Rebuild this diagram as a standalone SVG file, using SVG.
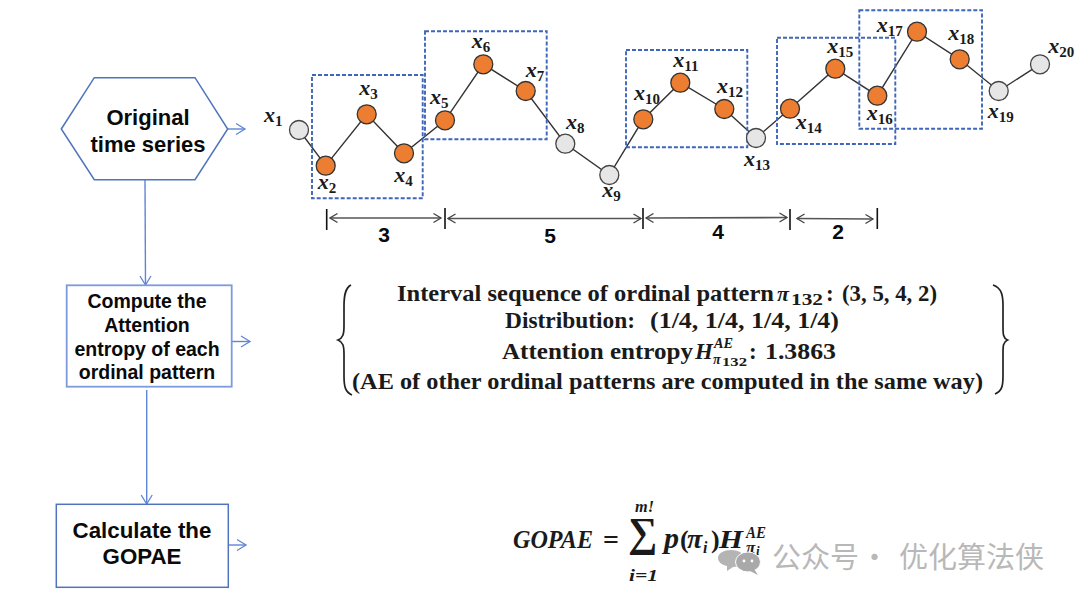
<svg xmlns="http://www.w3.org/2000/svg" width="1080" height="601" viewBox="0 0 1080 601">
<style>
.s{font-family:"Liberation Sans",Arial,sans-serif;font-weight:700;fill:#0a0a0a;text-anchor:middle}
.m{font-family:"Liberation Serif","Times New Roman",serif;font-weight:700;fill:#1a1a1a}
.v{font-size:22px;font-style:italic}
.b{font-size:15px}
.t{font-size:23px}
.flow{fill:#fff;stroke:#4f74bd;stroke-width:1.5}
.boxl{fill:#fff;stroke:#7d9bdc;stroke-width:1.8}
.fl{fill:none;stroke:#5f86d6;stroke-width:1.4}
.ser{fill:none;stroke:#333;stroke-width:1.4}
.dash{fill:none;stroke:#3f66b8;stroke-width:1.9;stroke-dasharray:4 2}
.o{fill:#ed7d31;stroke:#333;stroke-width:1.3}
.g{fill:#e6e6e6;stroke:#444;stroke-width:1.3}
.tick{stroke:#111;stroke-width:1.6}
.dim{stroke:#555;stroke-width:1.6;fill:none;marker-start:url(#os);marker-end:url(#oe)}
.brace{fill:none;stroke:#222;stroke-width:1.7}
</style>
<defs>
<marker id="fa" markerUnits="userSpaceOnUse" markerWidth="12" markerHeight="14" refX="10" refY="7" orient="auto"><path d="M1 1.5L10 7L1 12.5" fill="none" stroke="#5f86d6" stroke-width="1.3"/></marker>
<marker id="oe" markerUnits="userSpaceOnUse" markerWidth="10" markerHeight="12" refX="8.5" refY="6" orient="auto"><path d="M1 1.5L8.5 6L1 10.5" fill="none" stroke="#444" stroke-width="1.3"/></marker>
<marker id="os" markerUnits="userSpaceOnUse" markerWidth="10" markerHeight="12" refX="1.5" refY="6" orient="auto"><path d="M9 1.5L1.5 6L9 10.5" fill="none" stroke="#444" stroke-width="1.3"/></marker>
</defs>
<rect width="1080" height="601" fill="#fff"/>
<g id="connectors">
<polyline class="ser" points="299,130 325.7,165.7 366.7,114.3 404,153.3 445,120.3 483.3,64.3 525.7,91 565.3,143.7 609.3,175 643.3,119.3 680.3,82.7 724.3,109 756,138 790,108.7 835.3,68.7 877.3,95.7 917,31.7 959.7,59.3 998.7,91 1040,64.3"/>
<line class="fl" marker-end="url(#fa)" x1="228" y1="129" x2="245" y2="129"/>
<line class="fl" marker-end="url(#fa)" x1="145" y1="180" x2="145.5" y2="285"/>
<line class="fl" marker-end="url(#fa)" x1="232" y1="341.5" x2="250" y2="341.5"/>
<line class="fl" marker-end="url(#fa)" x1="146.7" y1="390" x2="146.7" y2="504"/>
<line class="fl" marker-end="url(#fa)" x1="228" y1="545" x2="246" y2="545"/>
<line class="dim" x1="330" y1="218" x2="441" y2="218"/>
<line class="dim" x1="448" y1="218.5" x2="641" y2="218.5"/>
<line class="dim" x1="646" y1="218" x2="787" y2="217.5"/>
<line class="dim" x1="797" y1="218.5" x2="873" y2="219"/>
<line class="tick" x1="326.7" y1="209" x2="326.7" y2="230"/>
<line class="tick" x1="445" y1="208" x2="445" y2="229"/>
<line class="tick" x1="643" y1="208" x2="643" y2="229"/>
<line class="tick" x1="790" y1="209" x2="790" y2="230"/>
<line class="tick" x1="877.3" y1="208" x2="877.3" y2="229"/>
</g>
<g id="windows">
<rect class="dash" x="312" y="75" width="110.7" height="123.3"/>
<rect class="dash" x="425" y="31.3" width="121.7" height="108"/>
<rect class="dash" x="626" y="50" width="121.3" height="97.3"/>
<rect class="dash" x="777" y="37.7" width="118.3" height="106.3"/>
<rect class="dash" x="859.3" y="10.3" width="122.7" height="118.4"/>
</g>
<g id="hexagon"><polygon class="flow" points="61.3,129 94.3,77.7 195,77.7 227.7,129 195,179.7 94.3,179.7"/>
<text class="s" font-size="22" x="148" y="125">Original</text><text class="s" font-size="22" x="148" y="151.7">time series</text></g>
<g id="compute"><rect class="boxl" x="66.7" y="285.3" width="165" height="101.4"/>
<text class="s" font-size="19.5" x="147" y="308">Compute the</text><text class="s" font-size="19.5" x="147" y="332.3">Attention</text><text class="s" font-size="19.5" x="147" y="356">entropy of each</text><text class="s" font-size="19.5" x="147" y="379.3">ordinal pattern</text></g>
<g id="calculate"><rect class="flow" x="56.3" y="504.3" width="172" height="83"/>
<text class="s" font-size="22.3" x="142" y="538">Calculate the</text><text class="s" font-size="22.3" x="142" y="564">GOPAE</text></g>
<g id="x1"><circle class="g" cx="299" cy="130" r="9.5"/><text class="m" x="264" y="122"><tspan class="v">x</tspan><tspan class="b" dy="4">1</tspan></text></g>
<g id="x2"><circle class="o" cx="325.7" cy="165.7" r="9.5"/><text class="m" x="317.7" y="189.3"><tspan class="v">x</tspan><tspan class="b" dy="4">2</tspan></text></g>
<g id="x3"><circle class="o" cx="366.7" cy="114.3" r="9.5"/><text class="m" x="359.3" y="95.3"><tspan class="v">x</tspan><tspan class="b" dy="4">3</tspan></text></g>
<g id="x4"><circle class="o" cx="404" cy="153.3" r="9.5"/><text class="m" x="394.3" y="181.7"><tspan class="v">x</tspan><tspan class="b" dy="4">4</tspan></text></g>
<g id="x5"><circle class="o" cx="445" cy="120.3" r="9.5"/><text class="m" x="430" y="104.3"><tspan class="v">x</tspan><tspan class="b" dy="4">5</tspan></text></g>
<g id="x6"><circle class="o" cx="483.3" cy="64.3" r="9.5"/><text class="m" x="471.7" y="48.3"><tspan class="v">x</tspan><tspan class="b" dy="4">6</tspan></text></g>
<g id="x7"><circle class="o" cx="525.7" cy="91" r="9.5"/><text class="m" x="525.7" y="77.3"><tspan class="v">x</tspan><tspan class="b" dy="4">7</tspan></text></g>
<g id="x8"><circle class="g" cx="565.3" cy="143.7" r="9.5"/><text class="m" x="566" y="128.7"><tspan class="v">x</tspan><tspan class="b" dy="4">8</tspan></text></g>
<g id="x9"><circle class="g" cx="609.3" cy="175" r="9.5"/><text class="m" x="602.3" y="197.3"><tspan class="v">x</tspan><tspan class="b" dy="4">9</tspan></text></g>
<g id="x10"><circle class="o" cx="643.3" cy="119.3" r="9.5"/><text class="m" x="634" y="100"><tspan class="v">x</tspan><tspan class="b" dy="4">10</tspan></text></g>
<g id="x11"><circle class="o" cx="680.3" cy="82.7" r="9.5"/><text class="m" x="673.3" y="66.7"><tspan class="v">x</tspan><tspan class="b" dy="4">11</tspan></text></g>
<g id="x12"><circle class="o" cx="724.3" cy="109" r="9.5"/><text class="m" x="717" y="93.3"><tspan class="v">x</tspan><tspan class="b" dy="4">12</tspan></text></g>
<g id="x13"><circle class="g" cx="756" cy="138" r="9.5"/><text class="m" x="744" y="165.7"><tspan class="v">x</tspan><tspan class="b" dy="4">13</tspan></text></g>
<g id="x14"><circle class="o" cx="790" cy="108.7" r="9.5"/><text class="m" x="795.7" y="129"><tspan class="v">x</tspan><tspan class="b" dy="4">14</tspan></text></g>
<g id="x15"><circle class="o" cx="835.3" cy="68.7" r="9.5"/><text class="m" x="827.3" y="53.3"><tspan class="v">x</tspan><tspan class="b" dy="4">15</tspan></text></g>
<g id="x16"><circle class="o" cx="877.3" cy="95.7" r="9.5"/><text class="m" x="866.7" y="120"><tspan class="v">x</tspan><tspan class="b" dy="4">16</tspan></text></g>
<g id="x17"><circle class="o" cx="917" cy="31.7" r="9.5"/><text class="m" x="876.7" y="32.3"><tspan class="v">x</tspan><tspan class="b" dy="4">17</tspan></text></g>
<g id="x18"><circle class="o" cx="959.7" cy="59.3" r="9.5"/><text class="m" x="948.3" y="40"><tspan class="v">x</tspan><tspan class="b" dy="4">18</tspan></text></g>
<g id="x19"><circle class="g" cx="998.7" cy="91" r="9.5"/><text class="m" x="987.7" y="118.3"><tspan class="v">x</tspan><tspan class="b" dy="4">19</tspan></text></g>
<g id="x20"><circle class="g" cx="1040" cy="64.3" r="9.5"/><text class="m" x="1048.3" y="53.3"><tspan class="v">x</tspan><tspan class="b" dy="4">20</tspan></text></g>
<g id="intervals">
<text class="s" font-size="21" x="384" y="242">3</text><text class="s" font-size="21" x="550" y="243">5</text><text class="s" font-size="21" x="718" y="239">4</text><text class="s" font-size="21" x="838" y="239">2</text>
</g>
<g id="details">
<path class="brace" d="M351 285C345 288 344 296 344 306L344 326C344 334 343 338 338 340C343 342 344 346 344 354L344 376C344 386 345 392 352 395"/>
<path class="brace" d="M993 285C1002 288 1003 296 1003 306L1003 326C1003 334 1003 338 1007.5 340C1003 342 1003 346 1003 354L1003 376C1003 386 1002 391 995 394"/>
<text class="m t" x="397" y="300.5" textLength="377" lengthAdjust="spacingAndGlyphs">Interval sequence of ordinal pattern</text>
<text class="m v" x="777" y="300.5">π</text>
<text class="m" font-size="16" x="791" y="304.5" textLength="32" lengthAdjust="spacingAndGlyphs">132</text>
<text class="m t" x="826" y="300.5">:</text>
<text class="m t" x="842" y="300.5" textLength="95" lengthAdjust="spacingAndGlyphs">(3, 5, 4, 2)</text>
<text class="m t" x="505" y="327.5" textLength="130" lengthAdjust="spacingAndGlyphs">Distribution:</text>
<text class="m t" x="650" y="327.5" textLength="189" lengthAdjust="spacingAndGlyphs">(1/4, 1/4, 1/4, 1/4)</text>
<text class="m t" x="502" y="359" textLength="191" lengthAdjust="spacingAndGlyphs">Attention entropy</text>
<text class="m" font-size="23" font-style="italic" x="695" y="359">H</text>
<text class="m b" font-style="italic" x="714" y="348" textLength="19" lengthAdjust="spacingAndGlyphs">AE</text>
<text class="m" font-size="14" font-style="italic" x="713" y="364">π</text>
<text class="m" font-size="13" x="722" y="366" textLength="25" lengthAdjust="spacingAndGlyphs">132</text>
<text class="m t" x="749" y="359">:</text>
<text class="m t" x="765" y="359" textLength="71" lengthAdjust="spacingAndGlyphs">1.3863</text>
<text class="m t" x="352" y="388.5" textLength="631" lengthAdjust="spacingAndGlyphs">(AE of other ordinal patterns are computed in the same way)</text>
</g>
<g id="formula">
<text class="m" font-size="25" font-style="italic" x="513" y="548" textLength="80" lengthAdjust="spacingAndGlyphs">GOPAE</text>
<text class="m" font-size="28" x="603" y="549">=</text>
<text class="m" font-size="41" font-weight="400" x="628" y="546">∑</text>
<text class="m" font-size="16" font-style="italic" x="635" y="512" textLength="19" lengthAdjust="spacingAndGlyphs">m!</text>
<text class="m" font-size="16" font-style="italic" x="629" y="581" textLength="29" lengthAdjust="spacingAndGlyphs">i=1</text>
<text class="m" font-size="30" font-style="italic" x="664" y="548">p</text>
<text class="m" font-size="26" font-weight="400" x="680" y="548">(</text>
<text class="m" font-size="28" font-style="italic" x="687" y="548">π</text>
<text class="m" font-size="16" font-style="italic" x="703" y="553">i</text>
<text class="m" font-size="26" font-weight="400" x="711" y="548">)</text>
<text class="m" font-size="25" font-style="italic" x="719" y="548" textLength="24" lengthAdjust="spacingAndGlyphs">H</text>
<text class="m" font-size="16" font-style="italic" x="746" y="538" textLength="20" lengthAdjust="spacingAndGlyphs">AE</text>
<text class="m" font-size="17" font-style="italic" x="746" y="553">π</text>
<text class="m" font-size="13" font-style="italic" x="756" y="555">i</text>
</g>
<g id="watermark">
<path d="M731 550C739 550 745 554 745 559C745 564 739 567 733 567L727 571L727 566C722 565 718 562 718 558C718 553 724 550 731 550Z" fill="#b4b4b4"/>
<ellipse cx="748" cy="562" rx="12.5" ry="10" fill="#a9a9a9" stroke="#fff" stroke-width="1"/>
<path d="M754 569L758 575L750 571Z" fill="#a9a9a9"/>
<circle cx="744" cy="561" r="1.4" fill="#fff"/><circle cx="752" cy="561" r="1.4" fill="#fff"/>
<text y="568" font-family="'Noto Sans CJK SC',sans-serif" font-size="29" fill="#b8b8b8"><tspan x="772">公众号</tspan><tspan x="860">·</tspan><tspan x="899">优化算法侠</tspan></text>
</g>
</svg>
